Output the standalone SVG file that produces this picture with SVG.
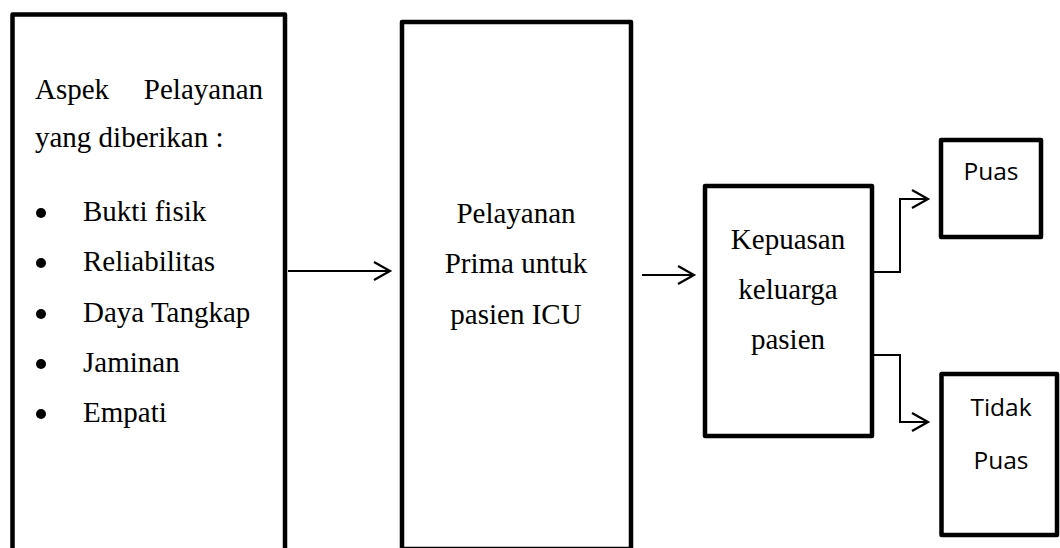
<svg xmlns="http://www.w3.org/2000/svg" width="1060" height="548" viewBox="0 0 1060 548">
<style>
.box{fill:#fff;stroke:#000;stroke-width:4.5;stroke-linejoin:round}
.ser{font-family:"Liberation Serif","Times New Roman",serif;font-size:29px;fill:#000}
.sans{font-family:"Open Sans","Liberation Sans",sans-serif;font-size:24.5px;fill:#000}
.mid{text-anchor:middle}
.con{fill:none;stroke:#000;stroke-width:2}
</style>
<defs>
<marker id="arr" markerUnits="userSpaceOnUse" markerWidth="20" markerHeight="22" refX="17" refY="10" orient="auto">
<path d="M1,1 L17,10 L1,19" fill="none" stroke="#000" stroke-width="2.2"/>
</marker>
</defs>
<rect width="1060" height="548" fill="#fff"/>
<g id="aspek">
<rect class="box" x="12.5" y="14.5" width="272.5" height="545"/>
<text class="ser" x="35" y="99">Aspek</text>
<text class="ser" x="263" y="99" text-anchor="end">Pelayanan</text>
<text class="ser" x="35" y="147">yang diberikan :</text>
<circle cx="41" cy="213" r="5"/>
<text class="ser" x="83" y="221">Bukti fisik</text>
<circle cx="41" cy="263" r="5"/>
<text class="ser" x="83" y="271">Reliabilitas</text>
<circle cx="41" cy="314" r="5"/>
<text class="ser" x="83" y="322">Daya Tangkap</text>
<circle cx="41" cy="364" r="5"/>
<text class="ser" x="83" y="372">Jaminan</text>
<circle cx="41" cy="414" r="5"/>
<text class="ser" x="83" y="422">Empati</text>
</g>
<g id="prima">
<rect class="box" x="402" y="22" width="229" height="527"/>
<text class="ser mid" x="516" y="223">Pelayanan</text>
<text class="ser mid" x="516" y="273">Prima untuk</text>
<text class="ser mid" x="516" y="324">pasien ICU</text>
</g>
<g id="kepuasan">
<rect class="box" x="705" y="186" width="167" height="250"/>
<text class="ser mid" x="788" y="249">Kepuasan</text>
<text class="ser mid" x="788" y="299">keluarga</text>
<text class="ser mid" x="788" y="349">pasien</text>
</g>
<g id="puas">
<rect class="box" x="941" y="140" width="100" height="97"/>
<text class="sans mid" x="991" y="180">Puas</text>
</g>
<g id="tidakpuas">
<rect class="box" x="941.5" y="374" width="115.5" height="161"/>
<text class="sans mid" x="1001" y="416">Tidak</text>
<text class="sans mid" x="1001" y="469">Puas</text>
</g>
<g id="connectors">
<path class="con" d="M288,271 H390" marker-end="url(#arr)"/>
<path class="con" d="M642,275 H694" marker-end="url(#arr)"/>
<path class="con" d="M874,272 H900 V199 H928" marker-end="url(#arr)"/>
<path class="con" d="M874,355 H900 V422 H928" marker-end="url(#arr)"/>
</g>
</svg>
